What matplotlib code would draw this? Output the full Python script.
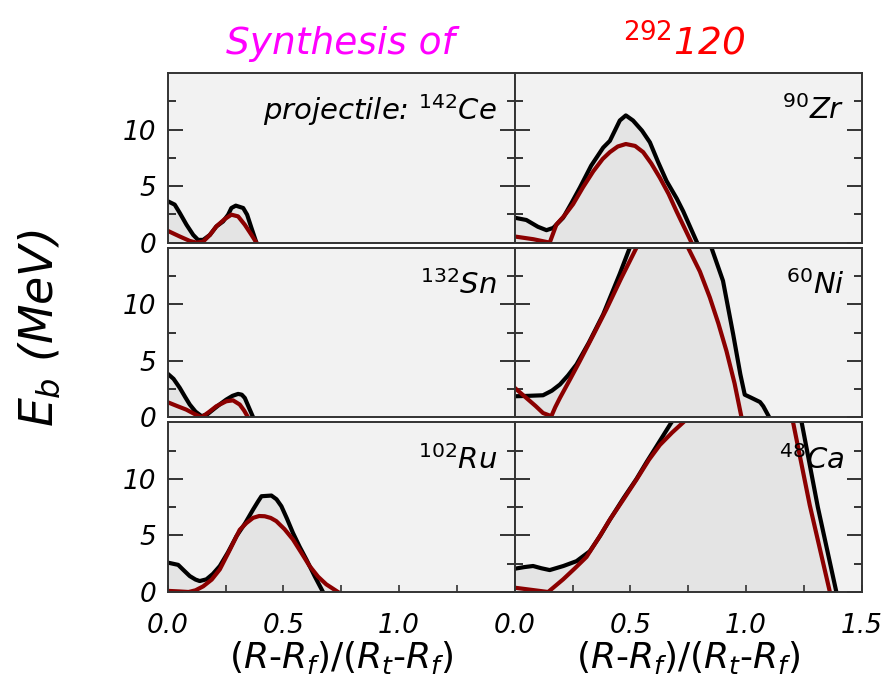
import numpy as np
import matplotlib.pyplot as plt
from matplotlib.ticker import MultipleLocator, FixedLocator

# --- data (x = (R-Rf)/(Rt-Rf), y = Eb in MeV) ---
ce_black_x = [0.0, 0.03, 0.052, 0.081, 0.11, 0.131, 0.153, 0.182, 0.21, 0.239, 0.261, 0.275, 0.294, 0.326, 0.343, 0.362, 0.383]
ce_black_y = [3.66, 3.36, 2.62, 1.58, 0.68, 0.24, 0.24, 0.68, 1.43, 1.87, 2.47, 3.06, 3.27, 3.06, 2.47, 1.28, 0.0]
ce_red_x = [0.0, 0.052, 0.095, 0.124, 0.153, 0.182, 0.21, 0.246, 0.275, 0.304, 0.333, 0.362, 0.383]
ce_red_y = [1.04, 0.54, 0.15, 0.0, 0.09, 0.68, 1.43, 2.08, 2.47, 2.32, 1.58, 0.68, 0.0]

zr_black_x = [0.0, 0.05, 0.10, 0.137, 0.166, 0.209, 0.245, 0.281, 0.33, 0.382, 0.411, 0.454, 0.48, 0.511, 0.55, 0.584, 0.62, 0.656, 0.70, 0.728, 0.788]
zr_black_y = [2.2, 2.0, 1.4, 1.1, 1.3, 2.2, 3.5, 4.85, 6.8, 8.4, 9.0, 10.8, 11.25, 10.8, 9.9, 8.87, 7.1, 5.45, 3.9, 2.77, 0.0]
zr_red_x = [0.0, 0.08, 0.151, 0.18, 0.215, 0.252, 0.295, 0.339, 0.38, 0.411, 0.445, 0.48, 0.52, 0.555, 0.59, 0.627, 0.665, 0.699, 0.764]
zr_red_y = [0.54, 0.3, 0.0, 1.6, 2.4, 3.4, 4.9, 6.3, 7.4, 8.0, 8.5, 8.72, 8.55, 8.0, 7.0, 5.74, 4.3, 2.77, 0.0]

sn_black_x = [0.0, 0.025, 0.052, 0.075, 0.095, 0.12, 0.146, 0.17, 0.196, 0.225, 0.253, 0.28, 0.304, 0.32, 0.333, 0.35, 0.369]
sn_black_y = [3.85, 3.4, 2.6, 1.8, 1.13, 0.5, 0.1, 0.25, 0.68, 1.15, 1.57, 1.9, 2.07, 2.0, 1.71, 0.9, 0.0]
sn_red_x = [0.0, 0.04, 0.08, 0.115, 0.146, 0.18, 0.21, 0.253, 0.282, 0.311, 0.33, 0.347]
sn_red_y = [1.33, 1.0, 0.68, 0.3, 0.0, 0.5, 0.98, 1.42, 1.5, 1.13, 0.6, 0.0]

ni_black_x = [0.0, 0.06, 0.122, 0.16, 0.195, 0.23, 0.267, 0.32, 0.382, 0.454, 0.497, 0.56, 0.67, 0.78, 0.85, 0.90, 0.944, 0.975, 0.994, 1.02, 1.038, 1.06, 1.074, 1.10]
ni_black_y = [1.86, 1.9, 1.95, 2.35, 2.9, 3.7, 4.68, 6.6, 9.1, 12.7, 15.0, 17.3, 19.0, 17.4, 15.0, 12.07, 7.34, 3.8, 2.0, 1.75, 1.57, 1.35, 0.98, 0.0]
ni_red_x = [0.0, 0.05, 0.09, 0.122, 0.158, 0.175, 0.195, 0.24, 0.281, 0.34, 0.396, 0.46, 0.526, 0.637, 0.749, 0.80, 0.843, 0.88, 0.915, 0.95, 0.98]
ni_red_y = [2.6, 1.71, 1.0, 0.38, 0.1, 0.9, 1.71, 3.4, 4.97, 7.3, 9.55, 12.3, 15.0, 16.7, 15.0, 12.9, 10.6, 8.3, 5.86, 3.0, 0.0]

ru_black_x = [0.0, 0.045, 0.07, 0.095, 0.12, 0.138, 0.167, 0.195, 0.225, 0.26, 0.297, 0.335, 0.369, 0.39, 0.405, 0.448, 0.47, 0.491, 0.515, 0.541, 0.57, 0.599, 0.635, 0.671]
ru_black_y = [2.6, 2.4, 1.9, 1.41, 1.1, 0.97, 1.12, 1.6, 2.3, 3.5, 4.94, 6.1, 7.3, 8.0, 8.47, 8.53, 8.2, 7.59, 6.5, 5.23, 4.0, 2.88, 1.4, 0.0]
ru_red_x = [0.0, 0.05, 0.09, 0.12, 0.153, 0.19, 0.225, 0.27, 0.311, 0.34, 0.369, 0.395, 0.419, 0.445, 0.469, 0.505, 0.541, 0.578, 0.613, 0.65, 0.685, 0.736]
ru_red_y = [0.1, 0.05, 0.0, 0.15, 0.5, 1.1, 2.0, 3.8, 5.5, 6.1, 6.56, 6.72, 6.7, 6.55, 6.27, 5.55, 4.65, 3.45, 2.3, 1.35, 0.68, 0.0]

ca_black_x = [0.0, 0.04, 0.079, 0.115, 0.151, 0.21, 0.267, 0.324, 0.37, 0.411, 0.47, 0.526, 0.57, 0.613, 0.677, 0.80, 0.95, 1.10, 1.24, 1.31, 1.39]
ca_black_y = [2.06, 2.2, 2.3, 2.1, 1.94, 2.3, 2.73, 3.6, 5.0, 6.4, 8.3, 10.0, 11.5, 12.9, 15.0, 18.0, 20.0, 19.5, 15.0, 7.5, 0.0]
ca_red_x = [0.0, 0.144, 0.209, 0.26, 0.31, 0.36, 0.411, 0.47, 0.526, 0.58, 0.627, 0.68, 0.728, 0.85, 1.0, 1.10, 1.203, 1.275, 1.362]
ca_red_y = [0.38, 0.0, 1.12, 2.1, 3.1, 4.7, 6.4, 8.2, 9.94, 11.7, 13.0, 14.1, 15.0, 17.5, 19.0, 18.5, 15.0, 7.68, 0.0]

panel_labels = [["projectile: $^{142}$Ce", "$^{90}$Zr"],
                ["$^{132}$Sn", "$^{60}$Ni"],
                ["$^{102}$Ru", "$^{48}$Ca"]]
curves = [[(ce_black_x, ce_black_y, ce_red_x, ce_red_y), (zr_black_x, zr_black_y, zr_red_x, zr_red_y)],
          [(sn_black_x, sn_black_y, sn_red_x, sn_red_y), (ni_black_x, ni_black_y, ni_red_x, ni_red_y)],
          [(ru_black_x, ru_black_y, ru_red_x, ru_red_y), (ca_black_x, ca_black_y, ca_red_x, ca_red_y)]]

plt.rcParams['font.family'] = 'DejaVu Sans'
plt.rcParams['mathtext.fontset'] = 'dejavusans'
plt.rcParams['mathtext.default'] = 'it'

fig, axes = plt.subplots(3, 2, figsize=(8.83, 6.92), dpi=100)
fig.subplots_adjust(left=0.190, right=0.976, top=0.8945, bottom=0.1445,
                    wspace=0.0, hspace=0.03)


def envelope(bx, by, rx, ry, grid):
    b = np.interp(grid, bx, by, right=0.0)
    r = np.interp(grid, rx, ry, right=0.0)
    return np.maximum(b, r)


for i in range(3):
    for j in range(2):
        ax = axes[i, j]
        bx, by, rx, ry = curves[i][j]
        ax.set_facecolor('#f2f2f2')
        grid = np.linspace(0, max(bx[-1], rx[-1]), 600)
        ax.fill_between(grid, 0, envelope(bx, by, rx, ry, grid), color='#e4e4e4', lw=0)
        ax.plot(bx, by, color='black', lw=3.0, solid_joinstyle='round')
        ax.plot(rx, ry, color='#8b0000', lw=3.0, solid_joinstyle='round')
        ax.set_xlim(0, 1.5)
        ax.set_ylim(0, 15)

        for s in ax.spines.values():
            s.set_color('#333333')
            s.set_linewidth(1.4)

        ax.yaxis.set_major_locator(FixedLocator([0, 5, 10]))
        ax.yaxis.set_minor_locator(FixedLocator([2.5, 7.5, 12.5]))
        ax.tick_params(axis='y', which='both', direction='in', left=True, right=True,
                       colors='#333333', width=1.4)
        ax.tick_params(axis='y', which='major', length=11)
        ax.tick_params(axis='y', which='minor', length=6)
        ax.tick_params(axis='y', labelcolor='black', labelsize=19, pad=8)
        if j == 1:
            ax.tick_params(axis='y', labelleft=False)

        ax.xaxis.set_major_locator(MultipleLocator(0.5))
        ax.xaxis.set_minor_locator(MultipleLocator(0.25))
        if i < 2:
            ax.tick_params(axis='x', which='both', bottom=False, top=False, labelbottom=False)
        else:
            ax.tick_params(axis='x', which='both', direction='in', length=5, width=1.2,
                           colors='#333333', labelcolor='black', labelsize=19, pad=15)
            if j == 0:
                ax.set_xticks([0, 0.5, 1.0])
            ax.xaxis.set_major_formatter(plt.FuncFormatter(lambda v, p: f"{v:.1f}"))
            ax.set_xlabel("$(R$-$R_f)/(R_t$-$R_f)$", fontsize=26, labelpad=0)

        for lab in ax.get_xticklabels() + ax.get_yticklabels():
            lab.set_fontstyle('italic')

        ax.text(0.95, 0.78, panel_labels[i][j], transform=ax.transAxes,
                ha='right', va='center', fontsize=21, fontstyle='italic')

fig.text(0.385, 0.937, "Synthesis of", color='#ff00ff', fontsize=27,
         fontstyle='italic', ha='center', va='center')
fig.text(0.775, 0.937, "$^{292}$120", color='#ff0000', fontsize=27,
         fontstyle='italic', ha='center', va='center')
fig.text(0.045, 0.525, "$E_b$ (MeV)", fontsize=33, rotation=90,
         fontstyle='italic', ha='center', va='center')

fig.savefig("out.png", dpi=100)
